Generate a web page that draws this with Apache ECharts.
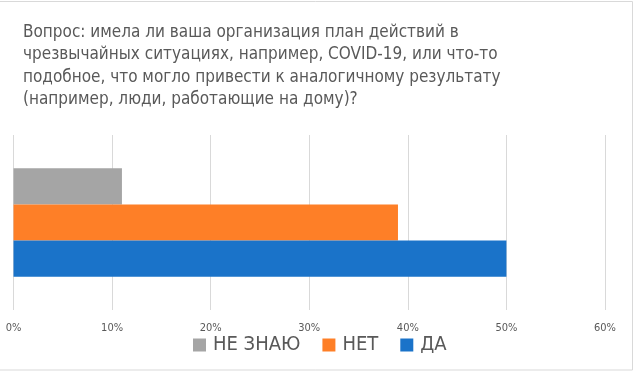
<!DOCTYPE html>
<html><head><meta charset="utf-8">
<script src="https://cdn.jsdelivr.net/npm/echarts@6/dist/echarts.min.js"></script>
<style>html,body{margin:0;padding:0;background:#fff}#c{width:635px;height:374px}</style>
</head><body><div id="c"></div>
<script>
const titleLines = [
  'Вопрос: имела ли ваша организация план действий в',
  'чрезвычайных ситуациях, например, COVID-19, или что-то',
  'подобное, что могло привести к аналогичному результату',
  '(например, люди, работающие на дому)?'
];
const categories = [''];
const seriesNames = ['НЕ ЗНАЮ', 'НЕТ', 'ДА'];
const seriesValues = [[0.11], [0.39], [0.50]];
const seriesColors = ['#A5A5A5', '#FE7F27', '#1A73C9'];
const xTicks = [0, 0.1, 0.2, 0.3, 0.4, 0.5, 0.6];

const FONT = "'Liberation Sans Narrow', 'DejaVu Sans Condensed', 'Liberation Sans', sans-serif";
const chart = echarts.init(document.getElementById('c'));
chart.setOption({
  animation: false,
  textStyle: { fontFamily: FONT },
  graphic: [{ type: 'rect', shape: { x: -1, y: 1.5, width: 633.5, height: 368.5 }, style: { fill: 'none', stroke: '#D9D9D9', lineWidth: 1 }, silent: true }],
  title: {
    text: titleLines.join('\n'), left: 18, top: 16,
    textStyle: { fontFamily: FONT, fontSize: 17, fontWeight: 'normal', color: '#595959', lineHeight: 22.5 }
  },
  legend: {
    data: seriesNames, left: 188, top: 330, itemWidth: 13, itemHeight: 13, itemGap: 22,
    icon: 'rect',
    textStyle: { fontFamily: FONT, fontSize: 20, color: '#595959', padding: [0, 0, 0, 2] }
  },
  grid: { left: 13.5, right: 30, top: 135, bottom: 64, containLabel: false },
  xAxis: {
    type: 'value', min: xTicks[0], max: xTicks[xTicks.length - 1], interval: 0.1,
    axisLine: { show: false }, axisTick: { show: false },
    splitLine: { lineStyle: { color: '#D9D9D9' } },
    axisLabel: { margin: 13, fontSize: 11, color: '#595959', formatter: v => Math.round(v * 100) + '%' }
  },
  yAxis: {
    type: 'category', data: categories,
    axisLine: { show: false }, axisTick: { show: false }, axisLabel: { show: false }
  },
  series: seriesNames.map((n, i) => ({
    name: n, type: 'bar', data: seriesValues[i], barGap: '0%', barCategoryGap: '38%',
    itemStyle: { color: seriesColors[i] }
  }))
});
</script></body></html>
